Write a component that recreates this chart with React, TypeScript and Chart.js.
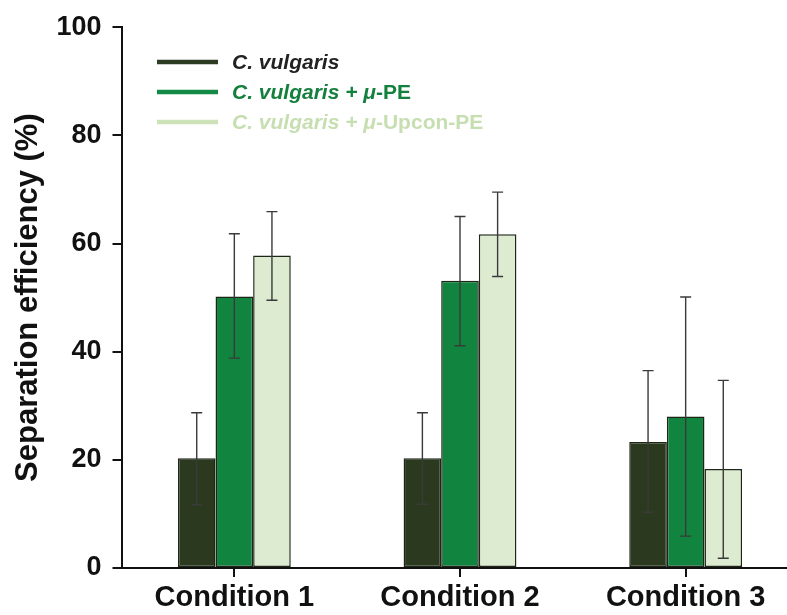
import React, { useEffect, useRef } from "react";
import { Chart, registerables } from "chart.js";

Chart.register(...registerables);

const categories = ["Condition 1", "Condition 2", "Condition 3"];
const seriesNames = ["C. vulgaris", "C. vulgaris + μ-PE", "C. vulgaris + μ-Upcon-PE"];

const vulgaris = [20.3, 20.3, 23.3];
const vulgarisLow = [11.7, 11.8, 10.3];
const vulgarisHigh = [28.7, 28.7, 36.5];

const withPE = [50.2, 53.1, 28.0];
const withPELow = [38.8, 41.1, 5.9];
const withPEHigh = [61.8, 65.0, 50.1];

const withUpcon = [57.8, 61.7, 18.3];
const withUpconLow = [49.5, 53.9, 1.8];
const withUpconHigh = [65.9, 69.5, 34.7];

const yTicks = [0, 20, 40, 60, 80, 100];

const barColors = ["#2b3a1f", "#11853f", "#ddecd0"];
const legendLineColors = ["#2d3b22", "#138a45", "#cde2b8"];
const legendTextColors = ["#222222", "#14803d", "#c6deb0"];
const legendItalicParts = ["C. vulgaris", "C. vulgaris + μ", "C. vulgaris + μ"];
const legendPlainParts = ["", "-PE", "-Upcon-PE"];

const lows = [vulgarisLow, withPELow, withUpconLow];
const highs = [vulgarisHigh, withPEHigh, withUpconHigh];

const FONT = "'Liberation Sans', Arial, sans-serif";

const errorBarPlugin = {
  id: "errorBars",
  afterDatasetsDraw(chart: any) {
    const ctx = chart.ctx;
    const yScale = chart.scales.y;
    ctx.save();
    ctx.strokeStyle = "#3a3a3a";
    ctx.lineWidth = 1.4;
    chart.data.datasets.forEach((_ds: any, i: number) => {
      const meta = chart.getDatasetMeta(i);
      meta.data.forEach((el: any, j: number) => {
        const x = el.x;
        const yl = yScale.getPixelForValue(lows[i][j]);
        const yh = yScale.getPixelForValue(highs[i][j]);
        const cap = 5.5;
        ctx.beginPath();
        ctx.moveTo(x, yl);
        ctx.lineTo(x, yh);
        ctx.moveTo(x - cap, yl);
        ctx.lineTo(x + cap, yl);
        ctx.moveTo(x - cap, yh);
        ctx.lineTo(x + cap, yh);
        ctx.stroke();
      });
    });
    ctx.restore();
  },
};

const legendPlugin = {
  id: "customLegend",
  afterDraw(chart: any) {
    const ctx = chart.ctx;
    ctx.save();
    const x0 = 157;
    const x1 = 218;
    const tx = 232;
    const ys = [62, 92, 122];
    seriesNames.forEach((_name, i) => {
      const y = ys[i];
      ctx.strokeStyle = legendLineColors[i];
      ctx.lineWidth = 4.5;
      ctx.beginPath();
      ctx.moveTo(x0, y);
      ctx.lineTo(x1, y);
      ctx.stroke();
      ctx.fillStyle = legendTextColors[i];
      ctx.textBaseline = "middle";
      ctx.textAlign = "left";
      ctx.font = `italic bold 21px ${FONT}`;
      ctx.fillText(legendItalicParts[i], tx, y + 1);
      const w = ctx.measureText(legendItalicParts[i]).width;
      ctx.font = `bold 21px ${FONT}`;
      ctx.fillText(legendPlainParts[i], tx + w, y + 1);
    });
    ctx.restore();
  },
};

export default function App() {
  const canvasRef = useRef<HTMLCanvasElement | null>(null);

  useEffect(() => {
    if (!canvasRef.current) return;
    const chart = new Chart(canvasRef.current, {
      type: "bar",
      data: {
        labels: categories,
        datasets: [
          { label: seriesNames[0], data: vulgaris, backgroundColor: barColors[0] },
          { label: seriesNames[1], data: withPE, backgroundColor: barColors[1] },
          { label: seriesNames[2], data: withUpcon, backgroundColor: barColors[2] },
        ].map((d) => ({
          ...d,
          borderColor: "#1e2618",
          borderWidth: 1.5,
          borderSkipped: false,
          categoryPercentage: 0.5,
          barPercentage: 1.0,
        })),
      },
      options: {
        responsive: false,
        animation: false,
        layout: { padding: { left: 0, top: 24, right: 11.5, bottom: 0 } },
        plugins: {
          legend: { display: false },
          tooltip: { enabled: false },
        },
        scales: {
          x: {
            type: "category",
            afterFit(scale: any) {
              scale.height = 47;
            },
            grid: {
              display: true,
              drawOnChartArea: false,
              offset: false,
              tickLength: 9,
              color: "#111",
              lineWidth: 2,
            },
            border: { display: true, color: "#111", width: 2 },
            ticks: {
              color: "#111",
              padding: 4,
              maxRotation: 0,
              font: { family: FONT, size: 29, weight: "bold" },
            },
          },
          y: {
            min: 0,
            max: 100,
            afterFit(scale: any) {
              scale.width = 121.5;
            },
            afterBuildTicks(scale: any) {
              scale.ticks = yTicks.map((v) => ({ value: v }));
            },
            grid: {
              display: true,
              drawOnChartArea: false,
              tickLength: 9,
              color: "#111",
              lineWidth: 2,
            },
            border: { display: true, color: "#111", width: 2 },
            ticks: {
              color: "#111",
              padding: 11,
              font: { family: FONT, size: 27, weight: "bold" },
            },
            title: {
              display: true,
              text: "Separation efficiency (%)",
              color: "#111",
              padding: { top: 10, bottom: 0 },
              font: { family: FONT, size: 31, weight: "bold" },
            },
          },
        },
      },
      plugins: [errorBarPlugin, legendPlugin],
    } as any);
    return () => chart.destroy();
  }, []);

  return (
    <div style={{ position: "fixed", left: 0, top: 0, width: 810, height: 615, background: "#fff" }}>
      <canvas ref={canvasRef} width={810} height={615} style={{ width: 810, height: 615, display: "block" }} />
    </div>
  );
}
